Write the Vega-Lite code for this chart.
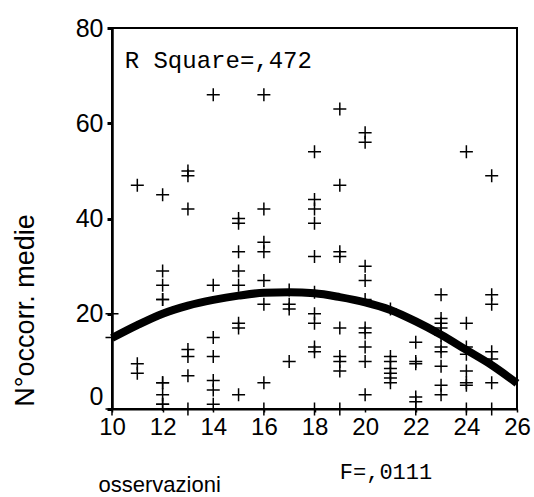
{
  "$schema": "https://vega.github.io/schema/vega-lite/v6.json",
  "width": 405,
  "height": 381,
  "autosize": {"type": "none"},
  "padding": {"left": 112, "top": 28, "right": 17, "bottom": 88},
  "background": "white",
  "config": {
    "view": {"stroke": "black", "strokeWidth": 2},
    "font": "Liberation Sans"
  },
  "datasets": {
    "points": [
      {"obs": 10, "media": 0}, {"obs": 10, "media": 15}, {"obs": 10, "media": 20},
      {"obs": 11, "media": 47}, {"obs": 11, "media": 9.5}, {"obs": 11, "media": 7.5},
      {"obs": 12, "media": 45}, {"obs": 12, "media": 29}, {"obs": 12, "media": 26}, {"obs": 12, "media": 23}, {"obs": 12, "media": 23}, {"obs": 12, "media": 5.5}, {"obs": 12, "media": 5.5}, {"obs": 12, "media": 3}, {"obs": 12, "media": 1}, {"obs": 12, "media": 1},
      {"obs": 13, "media": 50}, {"obs": 13, "media": 49}, {"obs": 13, "media": 42}, {"obs": 13, "media": 12.5}, {"obs": 13, "media": 11}, {"obs": 13, "media": 7}, {"obs": 13, "media": 0},
      {"obs": 14, "media": 66}, {"obs": 14, "media": 26}, {"obs": 14, "media": 15}, {"obs": 14, "media": 11}, {"obs": 14, "media": 6}, {"obs": 14, "media": 4}, {"obs": 14, "media": 1},
      {"obs": 15, "media": 40}, {"obs": 15, "media": 39}, {"obs": 15, "media": 33}, {"obs": 15, "media": 29}, {"obs": 15, "media": 26}, {"obs": 15, "media": 18}, {"obs": 15, "media": 17}, {"obs": 15, "media": 3},
      {"obs": 16, "media": 66}, {"obs": 16, "media": 42}, {"obs": 16, "media": 35}, {"obs": 16, "media": 33}, {"obs": 16, "media": 27}, {"obs": 16, "media": 22}, {"obs": 16, "media": 5.5}, {"obs": 16, "media": 0},
      {"obs": 17, "media": 25}, {"obs": 17, "media": 22}, {"obs": 17, "media": 21}, {"obs": 17, "media": 10},
      {"obs": 18, "media": 54}, {"obs": 18, "media": 44}, {"obs": 18, "media": 42}, {"obs": 18, "media": 39}, {"obs": 18, "media": 32}, {"obs": 18, "media": 24.5}, {"obs": 18, "media": 20}, {"obs": 18, "media": 18}, {"obs": 18, "media": 13}, {"obs": 18, "media": 12}, {"obs": 18, "media": 0},
      {"obs": 19, "media": 63}, {"obs": 19, "media": 47}, {"obs": 19, "media": 33}, {"obs": 19, "media": 32}, {"obs": 19, "media": 17}, {"obs": 19, "media": 11}, {"obs": 19, "media": 10}, {"obs": 19, "media": 8}, {"obs": 19, "media": 0},
      {"obs": 20, "media": 58}, {"obs": 20, "media": 56}, {"obs": 20, "media": 30}, {"obs": 20, "media": 27}, {"obs": 20, "media": 23}, {"obs": 20, "media": 17}, {"obs": 20, "media": 16}, {"obs": 20, "media": 13}, {"obs": 20, "media": 10}, {"obs": 20, "media": 3},
      {"obs": 21, "media": 21}, {"obs": 21, "media": 11}, {"obs": 21, "media": 10}, {"obs": 21, "media": 8.5}, {"obs": 21, "media": 7.5}, {"obs": 21, "media": 6.5}, {"obs": 21, "media": 5.5},
      {"obs": 22, "media": 14}, {"obs": 22, "media": 10}, {"obs": 22, "media": 9.5}, {"obs": 22, "media": 2.5}, {"obs": 22, "media": 1.5}, {"obs": 22, "media": 0},
      {"obs": 23, "media": 24}, {"obs": 23, "media": 19}, {"obs": 23, "media": 18}, {"obs": 23, "media": 17}, {"obs": 23, "media": 15.5}, {"obs": 23, "media": 13}, {"obs": 23, "media": 12}, {"obs": 23, "media": 9}, {"obs": 23, "media": 5}, {"obs": 23, "media": 3},
      {"obs": 24, "media": 54}, {"obs": 24, "media": 18}, {"obs": 24, "media": 13}, {"obs": 24, "media": 11.5}, {"obs": 24, "media": 8}, {"obs": 24, "media": 5.5}, {"obs": 24, "media": 5}, {"obs": 24, "media": 0},
      {"obs": 25, "media": 49}, {"obs": 25, "media": 24}, {"obs": 25, "media": 22}, {"obs": 25, "media": 12}, {"obs": 25, "media": 10.5}, {"obs": 25, "media": 5.5}, {"obs": 25, "media": 0}
    ],
    "fit": [
      {"obs": 10, "media": 14.9}, {"obs": 11, "media": 17.6}, {"obs": 12, "media": 20.0}, {"obs": 13, "media": 21.7},
      {"obs": 14, "media": 22.9}, {"obs": 15, "media": 23.8}, {"obs": 16, "media": 24.4}, {"obs": 17, "media": 24.5},
      {"obs": 18, "media": 24.3}, {"obs": 19, "media": 23.5}, {"obs": 20, "media": 22.4}, {"obs": 21, "media": 20.8},
      {"obs": 22, "media": 18.4}, {"obs": 23, "media": 15.6}, {"obs": 24, "media": 12.4}, {"obs": 25, "media": 9.2},
      {"obs": 26, "media": 5.4}
    ],
    "notes": [
      {"label": "R Square=,472", "obs": 10.5, "media": 73, "kind": "r"},
      {"label": "F=,0111", "obs": 19, "media": -13.2, "kind": "f"}
    ]
  },
  "layer": [
    {
      "data": {"name": "points"},
      "mark": {"type": "point", "shape": "M-1,0H1M0,-1V1", "size": 169, "filled": false, "color": "black", "strokeWidth": 1.5, "opacity": 1},
      "encoding": {
        "x": {
          "field": "obs", "type": "quantitative",
          "scale": {"domain": [10, 26], "nice": false, "zero": false},
          "axis": {
            "title": "osservazioni",
            "values": [10, 12, 14, 16, 18, 20, 22, 24, 26],
            "grid": false,
            "labelFlush": false,
            "labelFont": "Liberation Sans",
            "labelFontSize": 24,
            "labelColor": "black",
            "labelPadding": 3,
            "domainColor": "black",
            "domainWidth": 2,
            "tickColor": "black",
            "tickSize": 3,
            "tickWidth": 1.5,
            "titleFont": "Liberation Sans",
            "titleFontSize": 22,
            "titleFontWeight": "normal",
            "titleColor": "black",
            "titleAnchor": "start",
            "titleAlign": "left",
            "titleBaseline": "alphabetic",
            "titleX": -14,
            "titleY": 82
          }
        },
        "y": {
          "field": "media", "type": "quantitative",
          "scale": {"domain": [0, 80], "nice": false},
          "axis": {
            "title": "N°occorr. medie",
            "values": [0, 20, 40, 60, 80],
            "grid": false,
            "labelFont": "Liberation Sans",
            "labelFontSize": 25,
            "labelColor": "black",
            "labelPadding": 4,
            "labelBaseline": {"condition": {"test": "datum.value === 0", "value": "bottom"}, "value": "middle"},
            "domainColor": "black",
            "domainWidth": 2.5,
            "tickColor": "black",
            "tickSize": 5,
            "tickWidth": 3,
            "titleFont": "Liberation Sans",
            "titleFontSize": 27,
            "titleFontWeight": "normal",
            "titleColor": "black",
            "titleAngle": -90,
            "titleAlign": "center",
            "titleBaseline": "alphabetic",
            "titleX": -79,
            "titleY": 282
          }
        }
      }
    },
    {
      "data": {"name": "fit"},
      "mark": {"type": "line", "color": "black", "strokeWidth": 8, "interpolate": "monotone"},
      "encoding": {
        "x": {"field": "obs", "type": "quantitative"},
        "y": {"field": "media", "type": "quantitative"}
      }
    },
    {
      "data": {"name": "notes"},
      "transform": [{"filter": "datum.kind === 'r'"}],
      "mark": {"type": "text", "font": "Liberation Mono", "fontSize": 24, "align": "left", "baseline": "middle", "color": "black", "clip": false},
      "encoding": {
        "x": {"field": "obs", "type": "quantitative"},
        "y": {"field": "media", "type": "quantitative"},
        "text": {"field": "label"}
      }
    },
    {
      "data": {"name": "notes"},
      "transform": [{"filter": "datum.kind === 'f'"}],
      "mark": {"type": "text", "font": "Liberation Mono", "fontSize": 22, "align": "left", "baseline": "middle", "color": "black", "clip": false},
      "encoding": {
        "x": {"field": "obs", "type": "quantitative"},
        "y": {"field": "media", "type": "quantitative"},
        "text": {"field": "label"}
      }
    }
  ]
}
